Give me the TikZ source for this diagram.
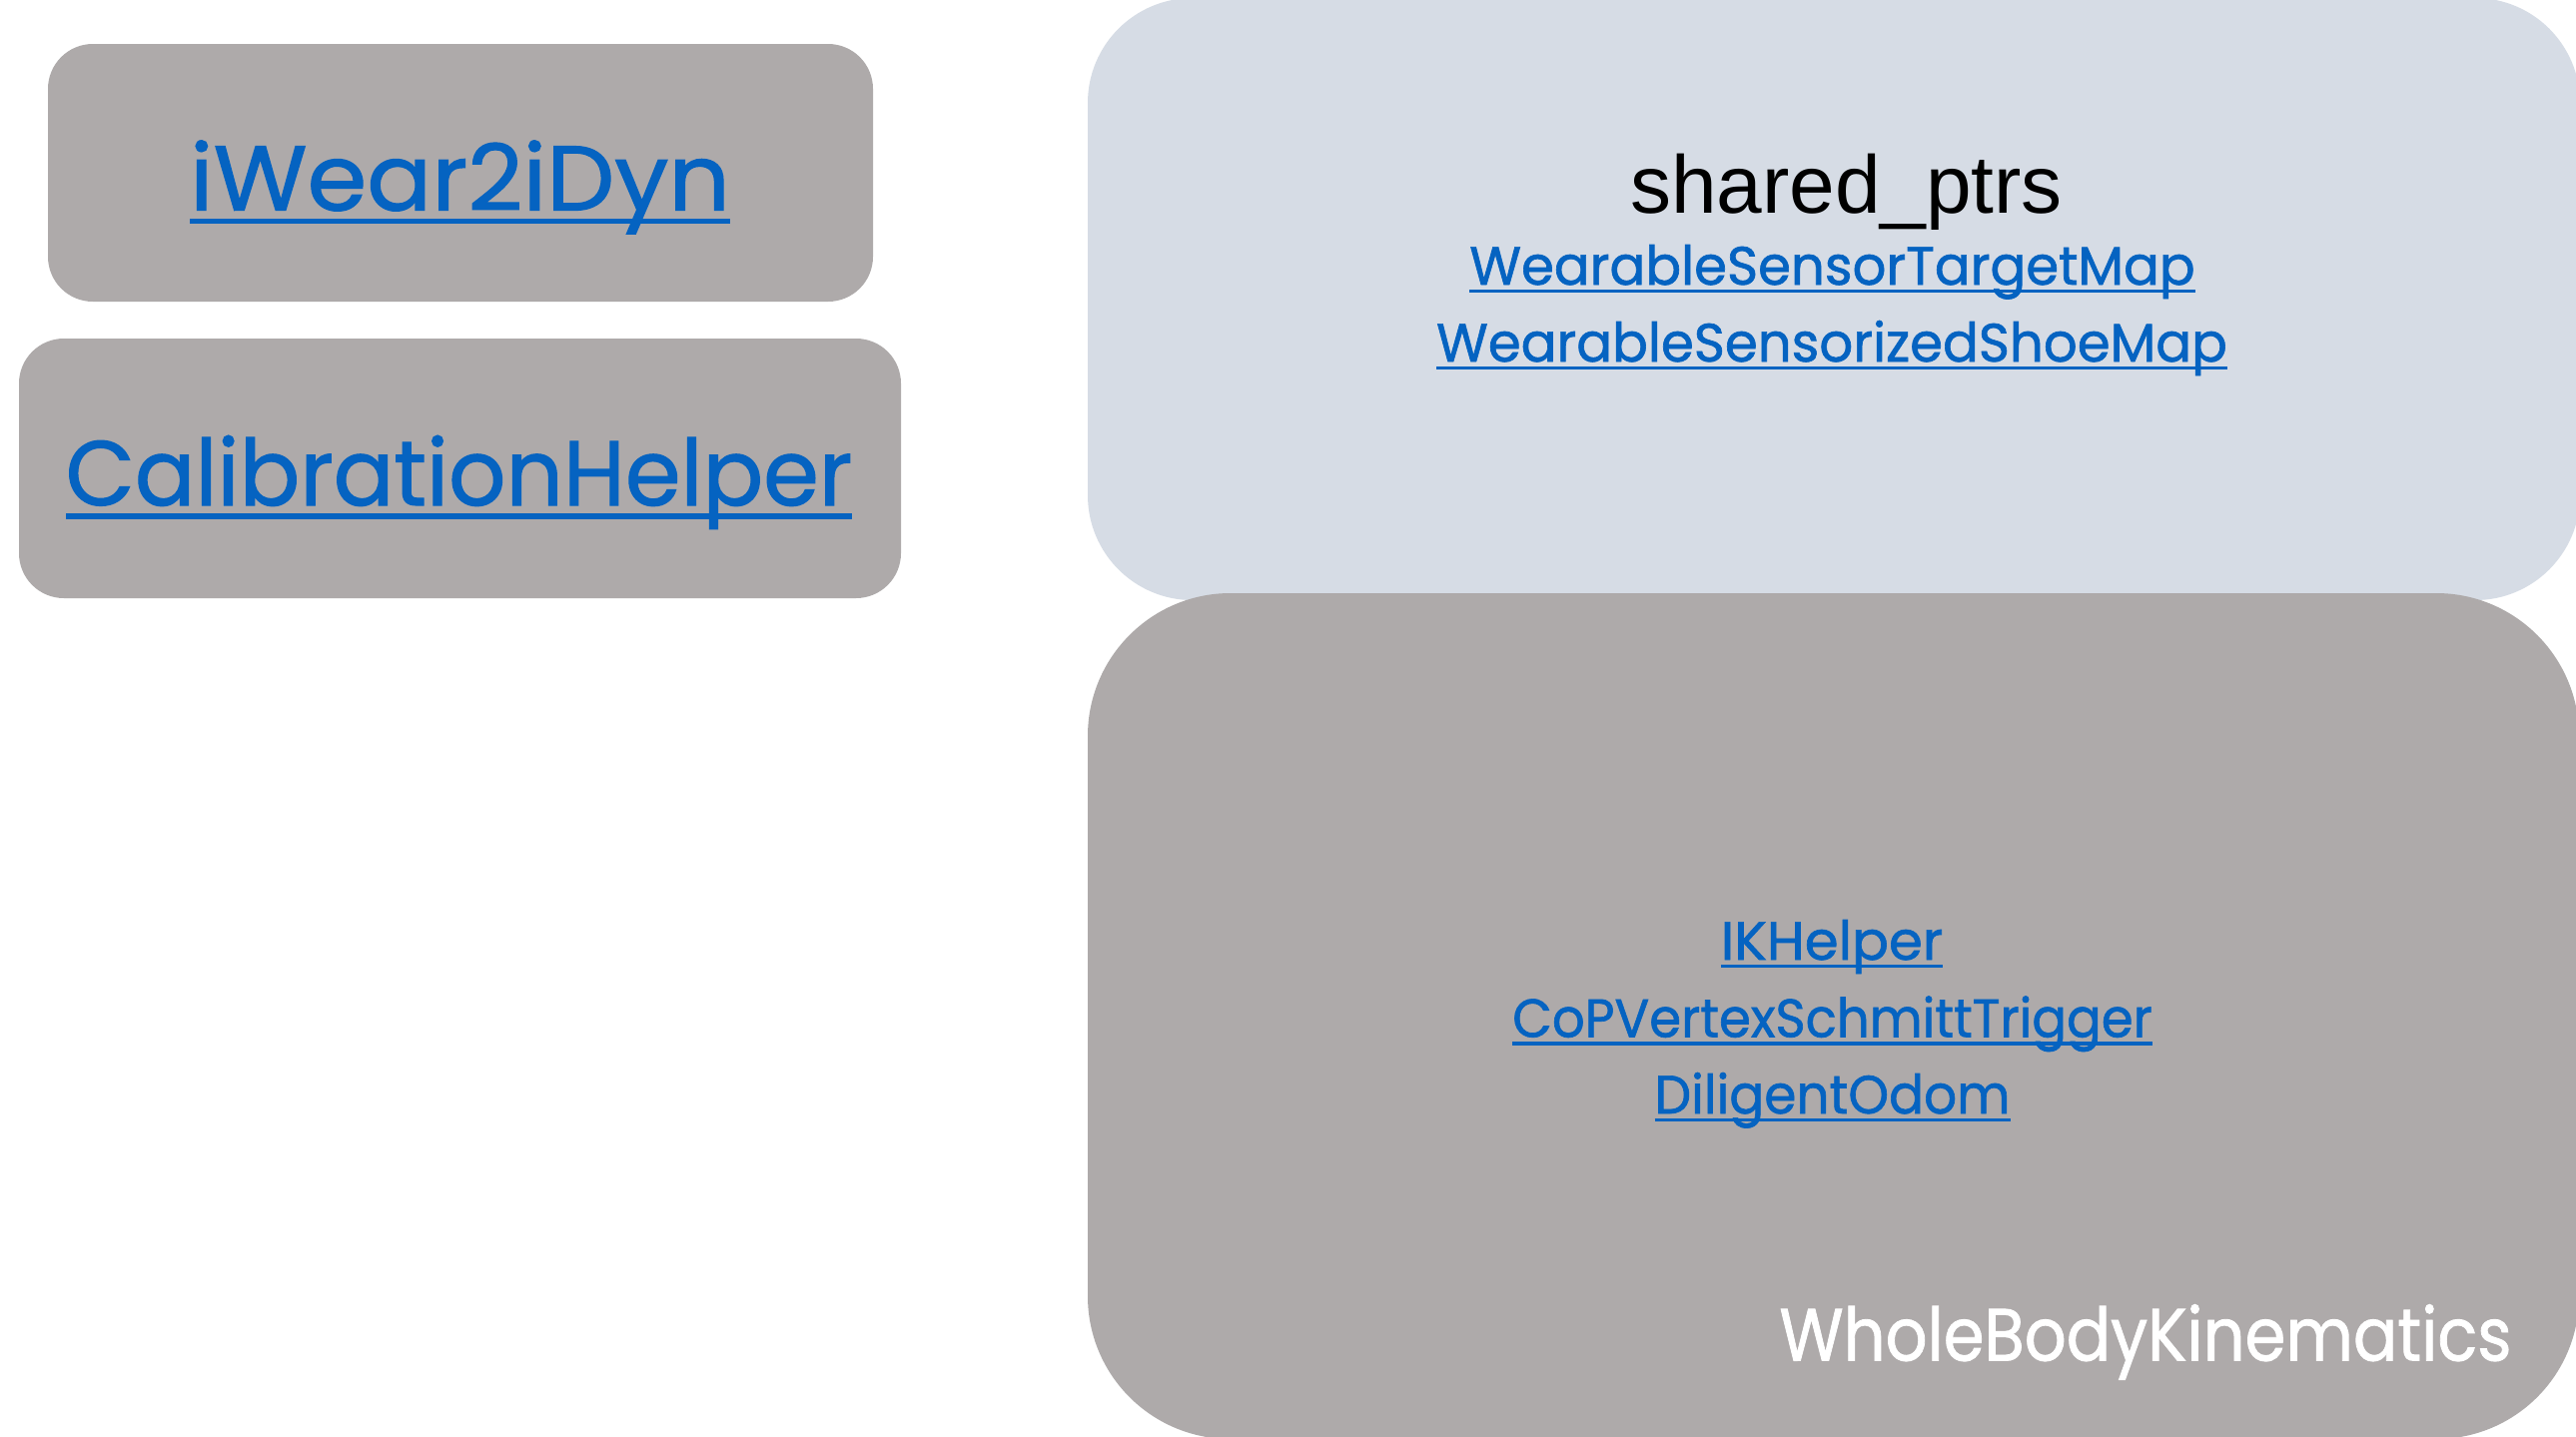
\documentclass[tikz,border=0pt]{standalone}
\usepackage{fontspec}
\usepackage{graphicx}
\newfontfamily\fut[FakeBold=1.2]{Poppins}
\newfontfamily\ari{Liberation Sans}
\definecolor{boxgray}{HTML}{AEAAAA}
\definecolor{boxblue}{HTML}{D6DCE5}
\definecolor{linkblue}{HTML}{0563C1}
\newlength\tmpw
\newsavebox\ulbox
\newcommand\ulin[1]{\sbox\ulbox{#1}\rlap{\rule[-0.15em]{\wd\ulbox}{0.06em}}\usebox\ulbox}
\newcommand\fitw[2]{\settowidth\tmpw{#2}\pgfmathsetmacro\fac{#1/\tmpw}\scalebox{\fac}[1]{#2}}
\begin{document}
\begin{tikzpicture}[x=1pt,y=-1pt,
  panel/.style={fill=boxgray,draw=none},
  link/.style={anchor=base,inner sep=0pt,text=linkblue,font=\fut\fontsize{54}{60}\selectfont},
  biglink/.style={anchor=base,inner sep=0pt,text=linkblue,font=\fut\fontsize{92}{100}\selectfont},
  title/.style={anchor=base,inner sep=0pt,font=\ari\fontsize{82}{90}\selectfont},
  label/.style={anchor=base,inner sep=0pt,text=white,font=\fut\fontsize{74}{80}\selectfont}]
\useasboundingbox (0,0) rectangle (2579,1438);
\fill[white] (0,0) rectangle (2579,1438);
% boxes
\path[panel,rounded corners=45pt] (48,44) rectangle (874,302);
\path[panel,rounded corners=45pt] (19,339) rectangle (902,599);
\path[fill=boxblue,rounded corners=105pt] (1089,-2) rectangle (2583,601);
\path[panel,rounded corners=143pt] (1089,594) rectangle (2582,1441);
% texts
\node[biglink] (iwear) at (460.5,210.6) {\fitw{541}{\ulin{iWear2iDyn}}};
\node[biglink] (calib) at (459.5,506) {\fitw{787.6}{\ulin{CalibrationHelper}}};
\node[title] (shared) at (1848.5,213.5) {shared\_ptrs};
\node[link] (wst) at (1834.5,285) {\fitw{726.4}{\ulin{WearableSensorTargetMap}}};
\node[link] (wss) at (1834,362) {\fitw{791.8}{\ulin{WearableSensorizedShoeMap}}};
\node[link] (ik) at (1834,961) {\fitw{222.4}{\ulin{IKHelper}}};
\node[link] (cop) at (1834.5,1038.5) {\fitw{640.6}{\ulin{CoPVertexSchmittTrigger}}};
\node[link] (dil) at (1834.5,1115) {\fitw{356}{\ulin{DiligentOdom}}};
\node[label] (wbk) at (2148,1362.5) {\fitw{733}{WholeBodyKinematics}};
\end{tikzpicture}
\end{document}
